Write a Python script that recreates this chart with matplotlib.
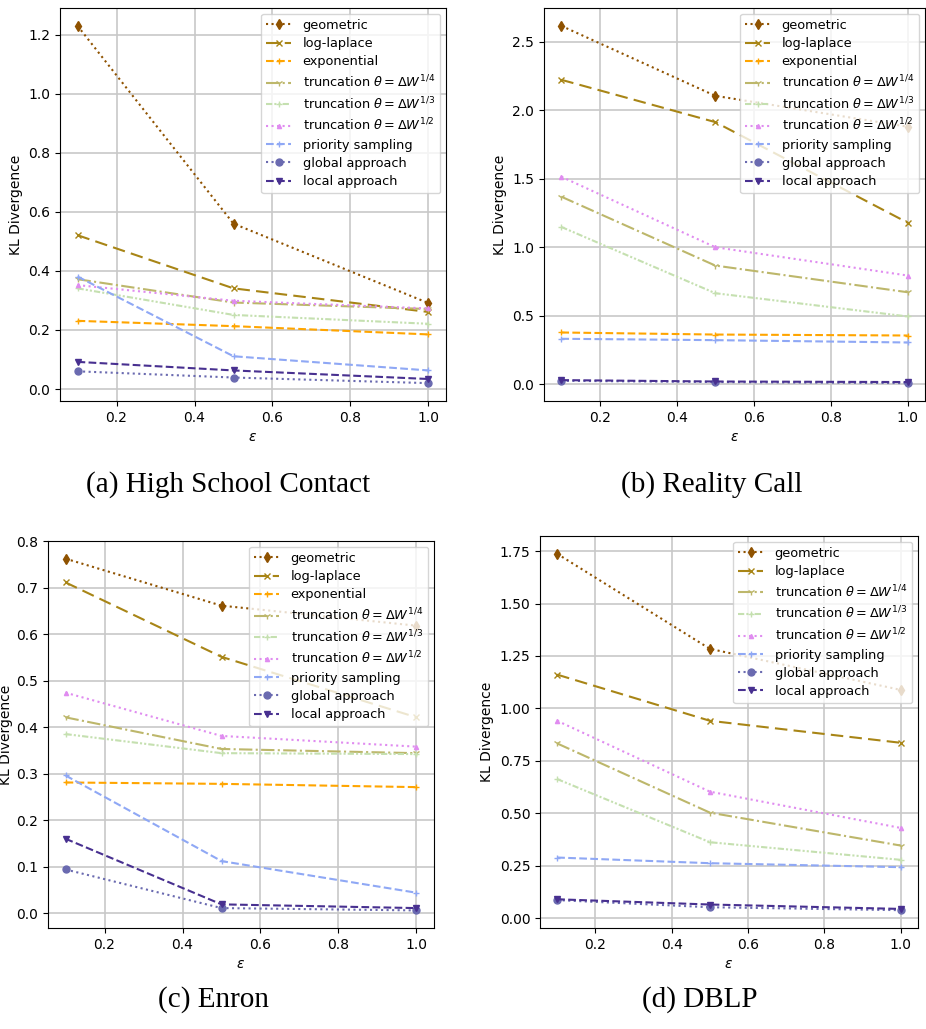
import matplotlib
matplotlib.use("Agg")
import matplotlib.pyplot as plt

eps = [0.1, 0.5, 1.0]

labels = ["geometric", "log-laplace", "exponential",
          r"truncation $\theta = \Delta W^{1/4}$",
          r"truncation $\theta = \Delta W^{1/3}$",
          r"truncation $\theta = \Delta W^{1/2}$",
          "priority sampling", "global approach", "local approach"]

# (a) High School Contact
hs_geometric = [1.230, 0.560, 0.291]
hs_loglaplace = [0.521, 0.341, 0.261]
hs_exponential = [0.231, 0.213, 0.185]
hs_trunc14 = [0.372, 0.293, 0.271]
hs_trunc13 = [0.341, 0.251, 0.221]
hs_trunc12 = [0.352, 0.299, 0.273]
hs_priority = [0.381, 0.111, 0.063]
hs_global = [0.060, 0.039, 0.020]
hs_local = [0.092, 0.063, 0.034]

# (b) Reality Call
rc_geometric = [2.617, 2.106, 1.880]
rc_loglaplace = [2.223, 1.914, 1.179]
rc_exponential = [0.377, 0.362, 0.355]
rc_trunc14 = [1.369, 0.866, 0.671]
rc_trunc13 = [1.148, 0.664, 0.494]
rc_trunc12 = [1.515, 1.000, 0.793]
rc_priority = [0.331, 0.321, 0.304]
rc_global = [0.024, 0.015, 0.007]
rc_local = [0.029, 0.019, 0.015]

# (c) Enron
en_geometric = [0.762, 0.661, 0.618]
en_loglaplace = [0.711, 0.551, 0.421]
en_exponential = [0.281, 0.278, 0.271]
en_trunc14 = [0.421, 0.353, 0.344]
en_trunc13 = [0.385, 0.344, 0.342]
en_trunc12 = [0.474, 0.381, 0.358]
en_priority = [0.296, 0.112, 0.044]
en_global = [0.094, 0.011, 0.006]
en_local = [0.160, 0.019, 0.011]

# (d) DBLP (no exponential series)
db_geometric = [1.737, 1.284, 1.088]
db_loglaplace = [1.161, 0.941, 0.836]
db_exponential = None
db_trunc14 = [0.833, 0.503, 0.346]
db_trunc13 = [0.663, 0.362, 0.278]
db_trunc12 = [0.941, 0.603, 0.430]
db_priority = [0.289, 0.262, 0.243]
db_global = [0.086, 0.052, 0.038]
db_local = [0.090, 0.065, 0.044]

captions = ["(a) High School Contact", "(b) Reality Call", "(c) Enron", "(d) DBLP"]
yticks = [
    [0.0, 0.2, 0.4, 0.6, 0.8, 1.0, 1.2],
    [0.0, 0.5, 1.0, 1.5, 2.0, 2.5],
    [0.0, 0.1, 0.2, 0.3, 0.4, 0.5, 0.6, 0.7, 0.8],
    [0.0, 0.25, 0.5, 0.75, 1.0, 1.25, 1.5, 1.75],
]

panels = [
    [hs_geometric, hs_loglaplace, hs_exponential, hs_trunc14, hs_trunc13, hs_trunc12, hs_priority, hs_global, hs_local],
    [rc_geometric, rc_loglaplace, rc_exponential, rc_trunc14, rc_trunc13, rc_trunc12, rc_priority, rc_global, rc_local],
    [en_geometric, en_loglaplace, en_exponential, en_trunc14, en_trunc13, en_trunc12, en_priority, en_global, en_local],
    [db_geometric, db_loglaplace, db_exponential, db_trunc14, db_trunc13, db_trunc12, db_priority, db_global, db_local],
]

styles = [
    dict(color="#8f5200", ls=":", marker="d", ms=5),
    dict(color="#a88516", ls=(0, (6, 3)), marker="x", ms=4),
    dict(color="#ffa500", ls="--", marker="+", ms=5),
    dict(color="#bdb76b", ls="-.", marker="1", ms=5),
    dict(color="#c5e0b0", ls=(0, (3, 1, 1, 1, 1, 1)), marker="+", ms=5),
    dict(color="#e08cf0", ls=":", marker="^", ms=3),
    dict(color="#8fa8f5", ls="--", marker="+", ms=5),
    dict(color="#6a6ab0", ls=":", marker="o", ms=5),
    dict(color="#483090", ls="--", marker="v", ms=5),
]

fig = plt.figure(figsize=(9.26, 10.29), dpi=100)
W, H = 926, 1029
rects = [
    (60, 8, 446, 401),
    (544, 8, 925, 401),
    (48, 541, 434, 928),
    (540, 536, 918, 928),
]
cap_pos = [(228, 485), (712, 485), (213, 1000), (700, 1000)]

for i, (r, data) in enumerate(zip(rects, panels)):
    x0, y0, x1, y1 = r
    ax = fig.add_axes([x0 / W, 1 - y1 / H, (x1 - x0) / W, (y1 - y0) / H])
    for lab, st, vals in zip(labels, styles, data):
        if vals is None:
            continue
        ax.plot(eps, vals, label=lab, lw=1.5, **st)
    ax.grid(True, color="#c8c8c8", lw=1.2)
    ax.set_axisbelow(True)
    ax.set_xticks([0.2, 0.4, 0.6, 0.8, 1.0])
    ax.set_yticks(yticks[i])
    ax.set_xlabel(r"$\epsilon$")
    ax.set_ylabel("KL Divergence", labelpad=2 if i == 2 else 4)
    ax.legend(loc="upper right", fontsize=9.3, labelspacing=0.4,
              handlelength=1.9, handletextpad=0.9, borderaxespad=0.45)
    fig.text(cap_pos[i][0] / W, 1 - cap_pos[i][1] / H, captions[i],
             ha="center", va="center", family="Liberation Serif", fontsize=21)

fig.savefig("out.png", dpi=100)
